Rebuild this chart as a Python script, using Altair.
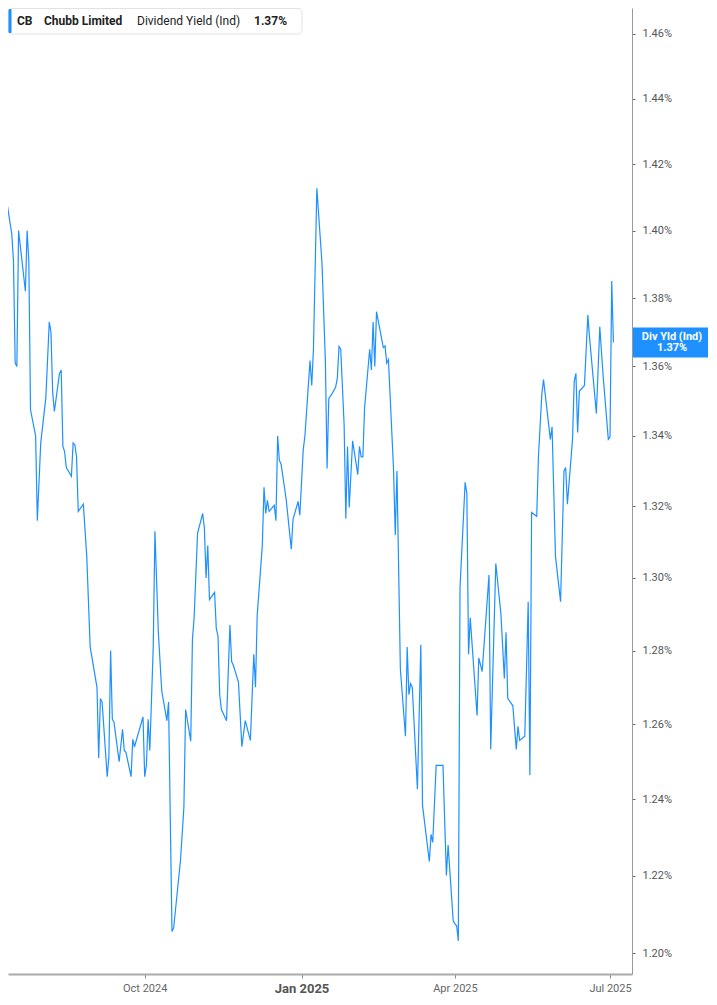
import altair as alt
import pandas as pd

# ---- data (CB dividend yield, %) ----
dates = [
    "2024-07-08", "2024-07-09", "2024-07-10", "2024-07-11", "2024-07-12", "2024-07-15", "2024-07-16", "2024-07-17", "2024-07-18", "2024-07-19",
    "2024-07-23", "2024-07-24", "2024-07-25", "2024-07-26", "2024-07-29", "2024-07-30", "2024-08-01", "2024-08-04", "2024-08-06", "2024-08-07",
    "2024-08-08", "2024-08-09", "2024-08-12", "2024-08-13", "2024-08-14", "2024-08-15", "2024-08-16", "2024-08-19", "2024-08-20", "2024-08-21",
    "2024-08-22", "2024-08-23", "2024-08-26", "2024-08-28", "2024-08-30", "2024-09-03", "2024-09-04", "2024-09-05", "2024-09-06", "2024-09-09",
    "2024-09-10", "2024-09-11", "2024-09-12", "2024-09-13", "2024-09-16", "2024-09-18", "2024-09-19", "2024-09-20", "2024-09-23", "2024-09-24",
    "2024-09-25", "2024-09-30", "2024-10-01", "2024-10-02", "2024-10-03", "2024-10-04", "2024-10-06", "2024-10-07", "2024-10-09", "2024-10-11",
    "2024-10-14", "2024-10-15", "2024-10-17", "2024-10-18", "2024-10-22", "2024-10-24", "2024-10-25", "2024-10-28", "2024-10-29", "2024-10-30",
    "2024-11-01", "2024-11-04", "2024-11-05", "2024-11-06", "2024-11-07", "2024-11-08", "2024-11-11", "2024-11-12", "2024-11-13", "2024-11-14",
    "2024-11-15", "2024-11-18", "2024-11-20", "2024-11-21", "2024-11-22", "2024-11-25", "2024-11-27", "2024-11-29", "2024-12-02", "2024-12-04",
    "2024-12-05", "2024-12-06", "2024-12-09", "2024-12-10", "2024-12-11", "2024-12-12", "2024-12-13", "2024-12-16", "2024-12-17", "2024-12-18",
    "2024-12-19", "2024-12-20", "2024-12-23", "2024-12-26", "2024-12-27", "2024-12-30", "2024-12-31", "2025-01-02", "2025-01-03", "2025-01-06",
    "2025-01-07", "2025-01-08", "2025-01-10", "2025-01-13", "2025-01-15", "2025-01-16", "2025-01-17", "2025-01-19", "2025-01-21", "2025-01-22",
    "2025-01-23", "2025-01-24", "2025-01-26", "2025-01-27", "2025-01-28", "2025-01-29", "2025-01-31", "2025-02-03", "2025-02-04", "2025-02-05",
    "2025-02-06", "2025-02-07", "2025-02-10", "2025-02-11", "2025-02-12", "2025-02-13", "2025-02-14", "2025-02-18", "2025-02-19", "2025-02-20",
    "2025-02-21", "2025-02-24", "2025-02-25", "2025-02-26", "2025-02-28", "2025-03-03", "2025-03-04", "2025-03-05", "2025-03-06", "2025-03-07",
    "2025-03-10", "2025-03-12", "2025-03-13", "2025-03-17", "2025-03-18", "2025-03-19", "2025-03-21", "2025-03-25", "2025-03-27", "2025-03-28",
    "2025-03-31", "2025-04-01", "2025-04-02", "2025-04-03", "2025-04-04", "2025-04-07", "2025-04-08", "2025-04-09", "2025-04-10", "2025-04-14",
    "2025-04-15", "2025-04-17", "2025-04-21", "2025-04-22", "2025-04-25", "2025-04-28", "2025-04-30", "2025-05-01", "2025-05-02", "2025-05-05",
    "2025-05-07", "2025-05-08", "2025-05-09", "2025-05-12", "2025-05-14", "2025-05-15", "2025-05-16", "2025-05-19", "2025-05-20", "2025-05-22",
    "2025-05-23", "2025-05-27", "2025-05-28", "2025-05-30", "2025-06-02", "2025-06-04", "2025-06-05", "2025-06-06", "2025-06-09", "2025-06-10",
    "2025-06-11", "2025-06-12", "2025-06-13", "2025-06-16", "2025-06-18", "2025-06-19", "2025-06-23", "2025-06-25", "2025-06-27", "2025-06-30",
    "2025-07-01", "2025-07-02", "2025-07-03",
]

yields = [
    1.439, 1.437, 1.419, 1.412, 1.409, 1.399, 1.391, 1.361, 1.360, 1.400,
    1.382, 1.400, 1.391, 1.3475, 1.340, 1.316, 1.338, 1.351, 1.373, 1.370,
    1.3525, 1.347, 1.358, 1.359, 1.337, 1.3355, 1.331, 1.3285, 1.338, 1.3375,
    1.334, 1.3186, 1.3206, 1.306, 1.281, 1.270, 1.251, 1.267, 1.266, 1.246,
    1.2515, 1.280, 1.2614, 1.2605, 1.250, 1.2587, 1.253, 1.2525, 1.246, 1.256,
    1.254, 1.262, 1.246, 1.249, 1.2614, 1.253, 1.281, 1.313, 1.285, 1.269,
    1.261, 1.266, 1.2055, 1.2065, 1.224, 1.238, 1.264, 1.2555, 1.283, 1.289,
    1.3124, 1.318, 1.314, 1.300, 1.309, 1.294, 1.296, 1.286, 1.284, 1.268,
    1.264, 1.261, 1.287, 1.277, 1.276, 1.2714, 1.254, 1.261, 1.2557, 1.279,
    1.270, 1.2896, 1.309, 1.3254, 1.318, 1.3217, 1.3186, 1.3203, 1.316, 1.340,
    1.333, 1.332, 1.322, 1.308, 1.3163, 1.3214, 1.3175, 1.336, 1.340, 1.3617,
    1.3545, 1.365, 1.4127, 1.3904, 1.3617, 1.3307, 1.3507, 1.3522, 1.354, 1.3565,
    1.3658, 1.365, 1.3432, 1.3166, 1.337, 1.3197, 1.3386, 1.329, 1.337, 1.334,
    1.334, 1.348, 1.365, 1.359, 1.373, 1.360, 1.376, 1.3655, 1.366, 1.361,
    1.362, 1.3304, 1.312, 1.330, 1.275, 1.2568, 1.281, 1.268, 1.271, 1.270,
    1.2427, 1.2816, 1.2384, 1.2237, 1.2308, 1.2287, 1.249, 1.249, 1.220, 1.228,
    1.2083, 1.2075, 1.207, 1.2031, 1.2973, 1.3268, 1.3237, 1.279, 1.289, 1.2624,
    1.278, 1.2743, 1.3008, 1.2533, 1.304, 1.290, 1.2724, 1.285, 1.267, 1.265,
    1.2533, 1.2595, 1.2557, 1.2568, 1.2934, 1.2464, 1.3183, 1.3172, 1.334, 1.352,
    1.3562, 1.339, 1.3426, 1.306, 1.2934, 1.330, 1.331, 1.3206, 1.339, 1.3557,
    1.358, 1.341, 1.3528, 1.3545, 1.375, 1.3684, 1.3464, 1.3716, 1.357, 1.339,
    1.3397, 1.385, 1.367,
]

y_ticks = [1.20, 1.22, 1.24, 1.26, 1.28, 1.30, 1.32, 1.34, 1.36, 1.38, 1.40, 1.42, 1.44, 1.46]
x_tick_months = [(2024, 10), (2025, 1), (2025, 4), (2025, 7)]
y_domain = [1.19464, 1.46812]
x_domain = [(2024, 7, 12, 19, 0), (2025, 7, 13, 21, 40)]

ticker = "CB"
company = "Chubb Limited"
metric = "Dividend Yield (Ind)"
tag_label = "Div Yld (Ind)"

BLUE = "#1e90ff"
FONT = "Roboto"
PLOT_W, PLOT_H = 624, 966

df = pd.DataFrame({"date": dates, "yld": yields})
last_df = df.iloc[[-1]].reset_index(drop=True)

x_scale = alt.Scale(
    type="utc",
    domain=[alt.DateTime(year=a, month=b, date=c, hours=h, minutes=mi, utc=True) for a, b, c, h, mi in x_domain],
    nice=False,
)
y_scale = alt.Scale(type="log", domain=y_domain, nice=False, zero=False)

is_jan = "utcmonth(datum.value) === 0"
x_axis = alt.Axis(
    values=[alt.DateTime(year=a, month=m, date=1, utc=True) for a, m in x_tick_months],
    labelExpr="utcFormat(datum.value, '%b %Y')",
    grid=False,
    title=None,
    domainColor="#aaaaaa",
    domainWidth=2,
    tickColor="#888888",
    tickSize=4,
    labelPadding=4,
    labelFont=FONT,
    labelFontSize={"condition": {"test": is_jan, "value": 13}, "value": 11},
    labelFontWeight={"condition": {"test": is_jan, "value": "bold"}, "value": "normal"},
    labelColor={"condition": {"test": is_jan, "value": "#555555"}, "value": "#666666"},
)

y_axis = alt.Axis(
    orient="right",
    values=y_ticks,
    labelExpr="format(datum.value, '.2f') + '%'",
    grid=False,
    title=None,
    domainColor="#999999",
    domainWidth=1,
    tickColor="#666666",
    tickSize=3,
    labelPadding=7,
    labelFont=FONT,
    labelFontSize=11,
    labelColor="#555555",
)

line = alt.Chart(df).mark_line(color=BLUE, strokeWidth=1.2, clip=True).encode(
    x=alt.X("date:T", scale=x_scale, axis=x_axis),
    y=alt.Y("yld:Q", scale=y_scale, axis=y_axis),
)

# value tag on the right axis
tag_box = alt.Chart(last_df).mark_rect(color=BLUE, yOffset=-15, y2Offset=15).encode(
    x=alt.value(PLOT_W + 1),
    x2=alt.value(700),
    y=alt.Y("yld:Q", scale=y_scale),
    y2=alt.Y2("yld:Q"),
)
tag_top = alt.Chart(last_df).mark_text(
    color="white", font=FONT, fontSize=11, fontWeight="bold",
    align="center", baseline="middle", dy=-5.5,
).encode(x=alt.value(664), y=alt.Y("yld:Q", scale=y_scale), text=alt.value(tag_label))
tag_val = alt.Chart(last_df).transform_calculate(
    v="format(datum.yld, '.2f') + '%'"
).mark_text(
    color="white", font=FONT, fontSize=11, fontWeight="bold",
    align="center", baseline="middle", dy=6,
).encode(x=alt.value(664), y=alt.Y("yld:Q", scale=y_scale), text="v:N")

# header box
hdr_box = alt.Chart(last_df).mark_rect(
    fill="white", stroke="#e2e2e2", strokeWidth=1, cornerRadius=4
).encode(x=alt.value(0.5), x2=alt.value(294), y=alt.value(0.5), y2=alt.value(26))
hdr_bar = alt.Chart(last_df).mark_rect(fill=BLUE, cornerRadius=1).encode(
    x=alt.value(0.5), x2=alt.value(3.5), y=alt.value(1), y2=alt.value(25)
)

def hdr_text(txt, xpos, bold):
    return alt.Chart(last_df).mark_text(
        font=FONT, fontSize=12, fontWeight="bold" if bold else "normal",
        color="#222222", align="left", baseline="middle",
    ).encode(x=alt.value(xpos), y=alt.value(13), text=alt.value(txt))

hdr_val = alt.Chart(last_df).transform_calculate(
    v="format(datum.yld, '.2f') + '%'"
).mark_text(
    font=FONT, fontSize=12, fontWeight="bold", color="#222222", align="left", baseline="middle"
).encode(x=alt.value(246), y=alt.value(13), text="v:N")

chart = alt.layer(
    line, tag_box, tag_top, tag_val, hdr_box, hdr_bar,
    hdr_text(ticker, 9, True), hdr_text(company, 36, True), hdr_text(metric, 129, False), hdr_val,
).properties(
    width=PLOT_W, height=PLOT_H,
    padding={"left": 0, "top": 0, "right": 0, "bottom": 0},
).configure_view(stroke=None)

chart.save("out.html", embed_options={"renderer": "svg", "actions": False})
